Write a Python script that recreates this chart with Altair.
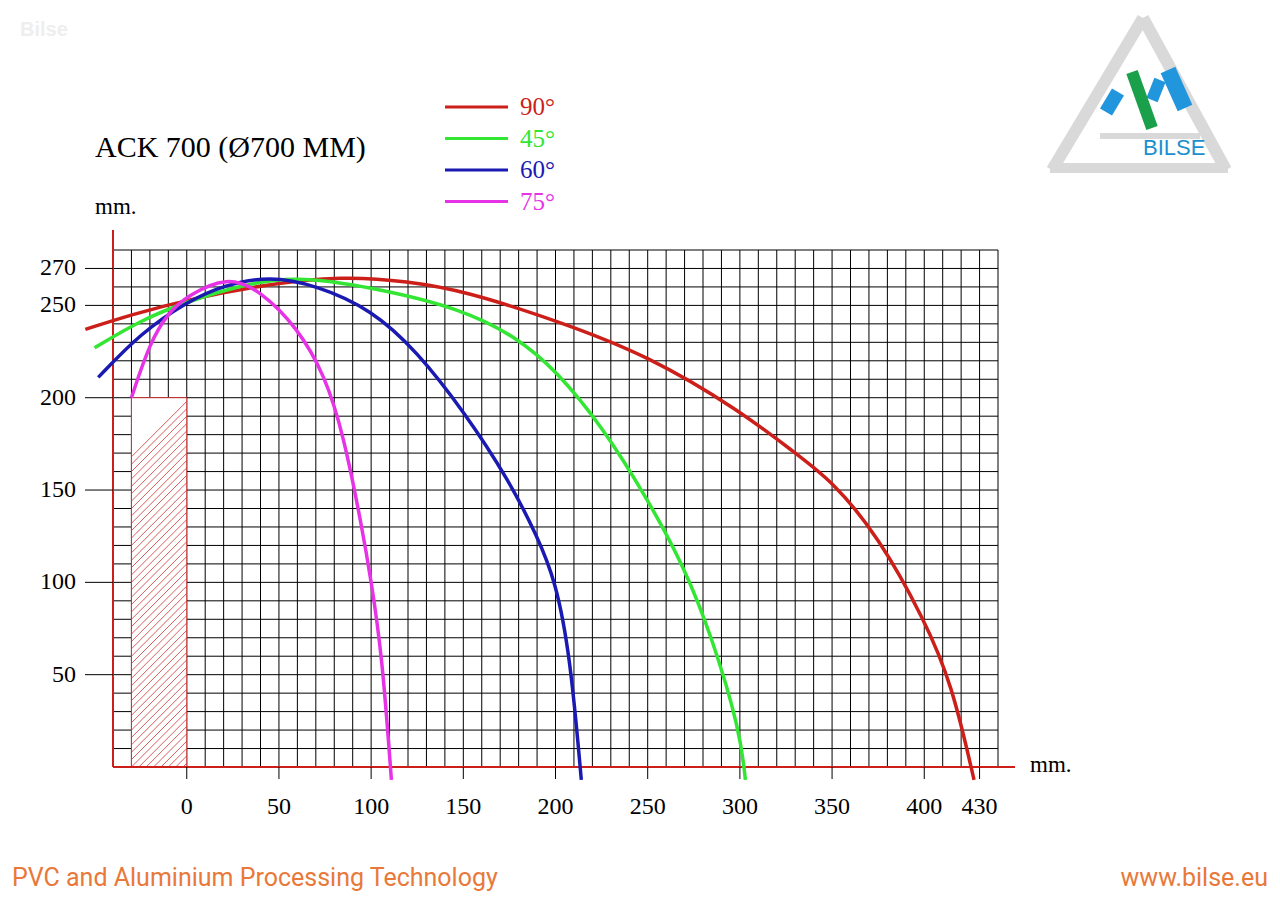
import altair as alt
import pandas as pd

# --- curve data (mm) ---
red_x = [-55, -30, 0, 40, 85, 120, 150, 200, 250, 300, 330, 350, 375, 400, 415, 427]
red_y = [237, 245, 253, 261, 266, 263, 258, 242, 223, 193, 170, 155, 125, 80, 45, -7]
green_x = [-50, -25, 0, 30, 58, 100, 150, 180, 200, 225, 250, 270, 285, 300, 303]
green_y = [227, 242, 252, 261, 266, 260, 248, 232, 215, 185, 145, 108, 70, 20, -7]
blue_x = [-48, -25, 0, 20, 45, 70, 100, 125, 150, 175, 190, 200, 208, 214]
blue_y = [211, 235, 252, 261, 266, 261, 248, 225, 193, 155, 125, 101, 60, -7]
mag_x = [-30, -20, -10, 0, 22, 40, 60, 75, 85, 95, 100, 106, 111]
mag_y = [200, 230, 246, 255, 266, 258, 238, 212, 180, 130, 101, 60, -7]

series = ["90°", "45°", "60°", "75°"]
colors = ["#cc1f1a", "#33e633", "#1a1ab3", "#e633e6"]

x_labels = [0, 50, 100, 150, 200, 250, 300, 350, 400, 430]
y_labels = [50, 100, 150, 200, 250, 270]

rows = []
for name, xs, ys in zip(series, [red_x, green_x, blue_x, mag_x], [red_y, green_y, blue_y, mag_y]):
    for i, (a, b) in enumerate(zip(xs, ys)):
        rows.append({"series": name, "x": a, "y": b, "i": i})
curves = pd.DataFrame(rows)

XS = alt.Scale(domain=[-40, 440], nice=False, zero=False)
YS = alt.Scale(domain=[0, 280], nice=False, zero=False)
W, H = 885, 517
SERIF = "Liberation Serif"

# grid
gx = pd.DataFrame({"v": list(range(-40, 441, 10))})
gy = pd.DataFrame({"v": list(range(0, 281, 10))})
grid_v = alt.Chart(gx).mark_rule(color="black", strokeWidth=1).encode(
    x=alt.X("v:Q", scale=XS, axis=None), y=alt.value(0), y2=alt.value(H))
grid_h = alt.Chart(gy).mark_rule(color="black", strokeWidth=1).encode(
    y=alt.Y("v:Q", scale=YS, axis=None), x=alt.value(0), x2=alt.value(W))

# hatched rectangle at x -30..0, y 0..200
rect = alt.Chart(pd.DataFrame({"x": [-30], "x2": [0], "y": [0], "y2": [200]})).mark_rect(
    fill="white", stroke="#cc3333", strokeWidth=1).encode(
    x=alt.X("x:Q", scale=XS), x2="x2", y=alt.Y("y:Q", scale=YS), y2="y2")
hrows = []
for k in range(0, 231, 4):
    c = k - 30
    lo_x = max(-30, -c)
    hi_x = min(0, 200 - c)
    if lo_x < hi_x:
        hrows.append({"x": lo_x, "y": lo_x + c, "x2": hi_x, "y2": hi_x + c})
hatch = alt.Chart(pd.DataFrame(hrows)).mark_rule(color="#cc3333", strokeWidth=0.8).encode(
    x=alt.X("x:Q", scale=XS), y=alt.Y("y:Q", scale=YS), x2="x2", y2="y2")

lines = alt.Chart(curves).mark_line(strokeWidth=3.5, interpolate="basis", clip=False).encode(
    x=alt.X("x:Q", scale=XS), y=alt.Y("y:Q", scale=YS), order="i:Q",
    detail="series:N",
    color=alt.Color("series:N", scale=alt.Scale(domain=series, range=colors), legend=None))

# axes labels
xl = alt.Chart(pd.DataFrame({"v": x_labels})).mark_text(font=SERIF, fontSize=24, baseline="top").encode(
    x=alt.X("v:Q", scale=XS), y=alt.value(H + 28), text="v:Q")
yl = alt.Chart(pd.DataFrame({"v": y_labels})).mark_text(font=SERIF, fontSize=24, align="right").encode(
    y=alt.Y("v:Q", scale=YS), x=alt.value(-37), text="v:Q")
yt = alt.Chart(pd.DataFrame({"v": y_labels})).mark_rule(color="black").encode(
    y=alt.Y("v:Q", scale=YS), x=alt.value(-28), x2=alt.value(0))
xt = alt.Chart(pd.DataFrame({"v": x_labels})).mark_rule(color="black").encode(
    x=alt.X("v:Q", scale=XS), y=alt.value(H), y2=alt.value(H + 12))

ox, oy = 113, 250  # page position of plot origin


def px(x):
    return x - ox


def py(y):
    return y - oy


def rule(x1, y1, x2, y2, color, w):
    return alt.Chart(pd.DataFrame({"a": [0]})).mark_rule(color=color, strokeWidth=w).encode(
        x=alt.value(px(x1)), y=alt.value(py(y1)), x2=alt.value(px(x2)), y2=alt.value(py(y2)))


def text(t, x, y, size, color="black", font=SERIF, align="left", weight="normal"):
    return alt.Chart(pd.DataFrame({"a": [0]})).mark_text(
        text=t, fontSize=size, color=color, font=font, align=align, baseline="middle",
        fontWeight=weight).encode(x=alt.value(px(x)), y=alt.value(py(y)))


axes = [rule(113, 230, 113, 767, "#cc1f1a", 2), rule(113, 767, 1015, 767, "#cc1f1a", 2)]

legend = []
for k, (s, c) in enumerate(zip(series, colors)):
    yy = 107 + k * 31.5
    legend.append(rule(445, yy, 508, yy, c, 3))
    legend.append(text(s, 520, yy, 25, color=c))

deco = [
    text("ACK 700 (Ø700 MM)", 95, 148, 30),
    text("mm.", 95, 207, 23),
    text("mm.", 1030, 765, 23),
    text("Bilse", 20, 30, 20, color="#eeeeee", font="Liberation Sans", weight="bold"),
    text("PVC and Aluminium Processing Technology", 12, 878, 25, color="#e8793a", font="Roboto"),
    text("www.bilse.eu", 1268, 878, 25, color="#e8793a", font="Roboto", align="right"),
    # logo
    rule(1143, 18, 1052, 170, "#d9d9d9", 12),
    rule(1143, 18, 1226, 170, "#d9d9d9", 12),
    rule(1050, 168, 1228, 168, "#d9d9d9", 10),
    rule(1100, 136, 1200, 136, "#d9d9d9", 6),
    rule(1118, 92, 1106, 112, "#2196dc", 14),
    rule(1168, 70, 1185, 108, "#2196dc", 16),
    rule(1160, 80, 1152, 100, "#2196dc", 12),
    rule(1132, 72, 1152, 128, "#1aa04a", 12),
    text("BILSE", 1143, 148, 22, color="#1a8fd0", font="Liberation Sans"),
]

chart = alt.layer(grid_v, grid_h, rect, hatch, *axes, yt, xt, xl, yl, lines, *legend, *deco).properties(
    width=W, height=H,
    autosize=alt.AutoSizeParams(type="none"),
    padding={"left": ox - 8, "top": oy - 8, "right": 1280 - 8 - ox - W, "bottom": 905 - 8 - oy - H},
).configure_view(stroke=None)

chart.save("out.html", embed_options={"renderer": "svg", "actions": False})
